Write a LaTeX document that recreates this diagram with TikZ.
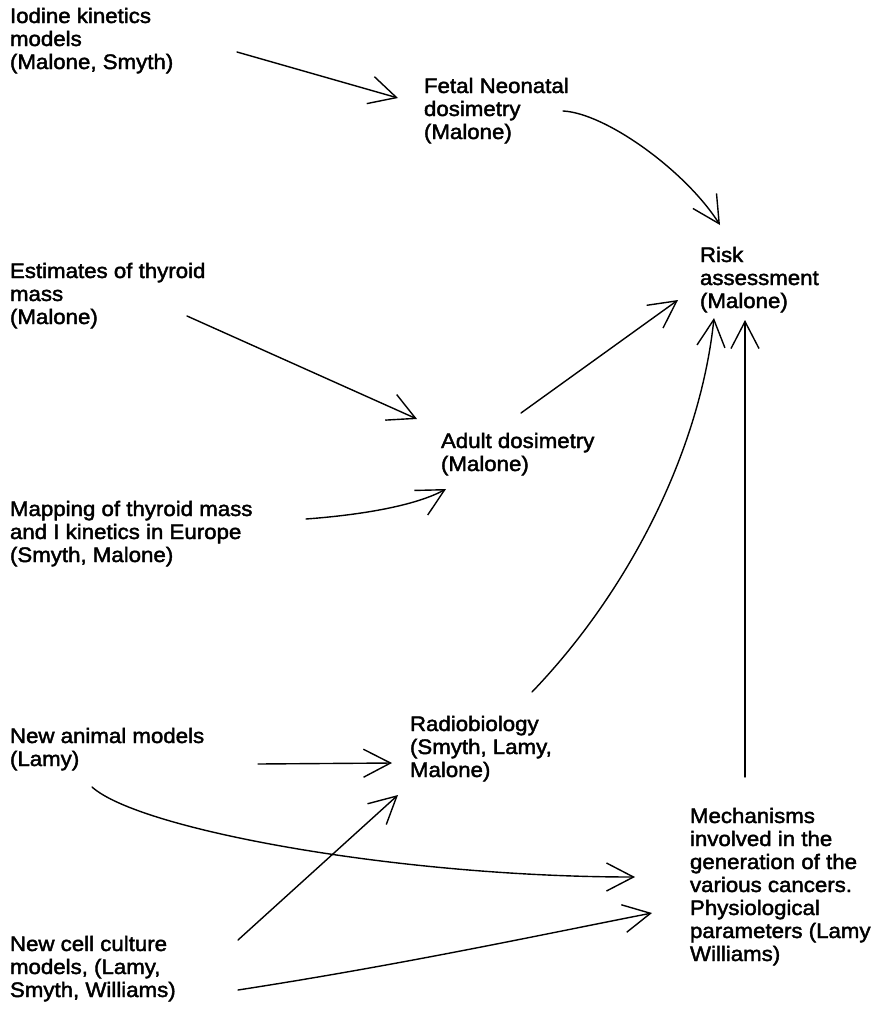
\documentclass[tikz,border=0pt]{standalone}
\usepackage{fontspec}
\setmainfont{Liberation Sans}[FakeStretch=1.06,FakeBold=2]
\usetikzlibrary{arrows.meta}
\tikzset{
  lbl/.style={anchor=north west, inner sep=0pt, outer sep=0pt, align=left,
    font=\fontsize{21}{23}\selectfont},
  conn/.style={line width=1.4pt, line cap=round,
    -{Straight Barb[length=27pt,width=28pt,line width=1.4pt]}}
}
\begin{document}
\begin{tikzpicture}[x=1pt,y=-1pt]
\useasboundingbox (0,0) rectangle (885,1015);
% nodes: position = (left x, first baseline - 16.1)
\node[lbl] (iod)   at (10,6.9)    {\strut Iodine kinetics\\models\\(Malone, Smyth)};
\node[lbl] (fet)   at (424,76.9)  {\strut Fetal Neonatal\\dosimetry\\(Malone)};
\node[lbl] (risk)  at (700,245.9) {\strut Risk\\assessment\\(Malone)};
\node[lbl] (est)   at (10,261.9)  {\strut Estimates of thyroid\\mass\\(Malone)};
\node[lbl] (adult) at (441,431.9) {\strut Adult dosimetry\\(Malone)};
\node[lbl] (map)   at (10,499.9)  {\strut Mapping of thyroid mass\\and I kinetics in Europe\\(Smyth, Malone)};
\node[lbl] (radio) at (410,714.9) {\strut Radiobiology\\(Smyth, Lamy,\\Malone)};
\node[lbl] (anim)  at (10,726.9)  {\strut New animal models\\(Lamy)};
\node[lbl] (mech)  at (690,806.9) {\strut Mechanisms\\involved in the\\generation of the\\various cancers.\\Physiological\\parameters (Lamy\\Williams)};
\node[lbl] (cell)  at (10,934.9)  {\strut New cell culture\\models, (Lamy,\\Smyth, Williams)};
% connector end points
\coordinate (iod-o)   at (237,52);
\coordinate (fet-i)   at (398,98);
\coordinate (fet-o)   at (563,111);
\coordinate (risk-i1) at (720,225);
\coordinate (est-o)   at (187,316);
\coordinate (adult-i1) at (417,419);
\coordinate (adult-o) at (521,413);
\coordinate (risk-i2) at (678,300);
\coordinate (map-o)   at (306,519);
\coordinate (adult-i2) at (446,489);
\coordinate (radio-o) at (532,692);
\coordinate (risk-i3) at (714,318);
\coordinate (mech-o)  at (745,777);
\coordinate (risk-i4) at (745,320);
\coordinate (anim-o1) at (258,764);
\coordinate (radio-i1) at (392,763);
\coordinate (anim-o2) at (92,787);
\coordinate (mech-i1) at (635,877);
\coordinate (cell-o1) at (238,940);
\coordinate (radio-i2) at (398,795);
\coordinate (cell-o2) at (238,990);
\coordinate (mech-i2) at (652,913);
% connectors
\draw[conn] (iod-o) -- (fet-i);
\draw[conn] (fet-o) .. controls (605,113) and (685,170) .. (risk-i1);
\draw[conn] (est-o) -- (adult-i1);
\draw[conn] (adult-o) -- (risk-i2);
\draw[conn] (map-o) .. controls (360,515) and (415,506) .. (adult-i2);
\draw[conn] (radio-o) .. controls (630,590) and (700,450) .. (risk-i3);
\draw[conn] (mech-o) -- (risk-i4);
\draw[conn] (anim-o1) -- (radio-i1);
\draw[conn] (anim-o2) .. controls (140,830) and (400,877) .. (mech-i1);
\draw[conn] (cell-o1) -- (radio-i2);
\draw[conn] (cell-o2) .. controls (400,965) and (540,935) .. (mech-i2);
\end{tikzpicture}
\end{document}
